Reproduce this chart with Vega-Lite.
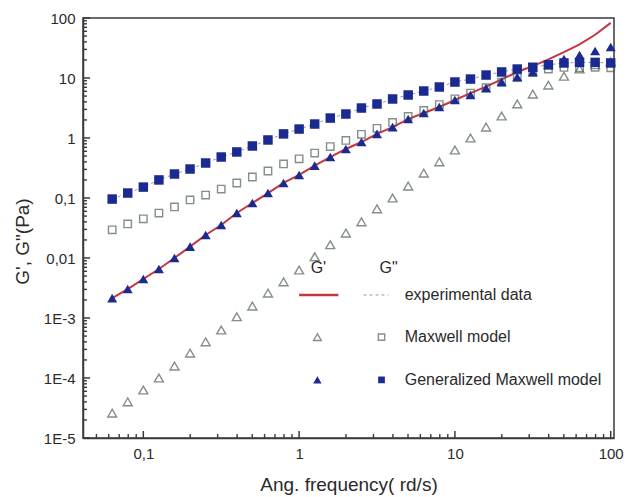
{
  "$schema": "https://vega.github.io/schema/vega-lite/v6.json",
  "width": 531,
  "height": 420,
  "autosize": {"type": "none"},
  "padding": {"left": 83, "top": 18, "right": 14, "bottom": 59},
  "background": "white",
  "config": {
    "view": {"stroke": "#3a3a3a", "strokeWidth": 1.5},
    "font": "Liberation Sans",
    "axis": {
      "domainColor": "#3a3a3a",
      "domainWidth": 1.5,
      "ticks": false,
      "labelFont": "Liberation Sans",
      "labelFontSize": 15,
      "labelColor": "#2a2a2a",
      "titleFont": "Liberation Sans",
      "titleFontSize": 19,
      "titleFontWeight": "normal",
      "titleColor": "#2a2a2a",
      "grid": false,
      "labelOverlap": false
    }
  },
  "datasets": {
    "curves": [
      {"w": 0.0631, "mg1": 2.6e-5, "mg2": 0.0295, "gg1": 0.00215, "gg2": 0.096, "eg1": 0.00215, "eg2": 0.096},
      {"w": 0.0794, "mg1": 4.0e-5, "mg2": 0.037, "gg1": 0.00304, "gg2": 0.121, "eg1": 0.00304, "eg2": 0.121},
      {"w": 0.1, "mg1": 6.3e-5, "mg2": 0.045, "gg1": 0.00447, "gg2": 0.152, "eg1": 0.00447, "eg2": 0.152},
      {"w": 0.1259, "mg1": 1.0e-4, "mg2": 0.056, "gg1": 0.00656, "gg2": 0.2, "eg1": 0.00656, "eg2": 0.2},
      {"w": 0.1585, "mg1": 1.58e-4, "mg2": 0.071, "gg1": 0.01, "gg2": 0.251, "eg1": 0.01, "eg2": 0.251},
      {"w": 0.1995, "mg1": 2.6e-4, "mg2": 0.093, "gg1": 0.0155, "gg2": 0.304, "eg1": 0.0155, "eg2": 0.304},
      {"w": 0.2512, "mg1": 4.0e-4, "mg2": 0.112, "gg1": 0.0242, "gg2": 0.383, "eg1": 0.0242, "eg2": 0.383},
      {"w": 0.3162, "mg1": 6.3e-4, "mg2": 0.141, "gg1": 0.0355, "gg2": 0.482, "eg1": 0.0355, "eg2": 0.482},
      {"w": 0.3981, "mg1": 1.05e-3, "mg2": 0.178, "gg1": 0.0562, "gg2": 0.585, "eg1": 0.0562, "eg2": 0.585},
      {"w": 0.5012, "mg1": 1.58e-3, "mg2": 0.224, "gg1": 0.0826, "gg2": 0.736, "eg1": 0.0826, "eg2": 0.736},
      {"w": 0.631, "mg1": 2.6e-3, "mg2": 0.282, "gg1": 0.121, "gg2": 0.927, "eg1": 0.121, "eg2": 0.927},
      {"w": 0.7943, "mg1": 4.0e-3, "mg2": 0.37, "gg1": 0.178, "gg2": 1.17, "eg1": 0.178, "eg2": 1.17},
      {"w": 1, "mg1": 6.3e-3, "mg2": 0.45, "gg1": 0.242, "gg2": 1.41, "eg1": 0.242, "eg2": 1.41},
      {"w": 1.259, "mg1": 0.0105, "mg2": 0.56, "gg1": 0.347, "gg2": 1.71, "eg1": 0.347, "eg2": 1.71},
      {"w": 1.585, "mg1": 0.0166, "mg2": 0.72, "gg1": 0.482, "gg2": 2.15, "eg1": 0.482, "eg2": 2.15},
      {"w": 1.995, "mg1": 0.026, "mg2": 0.91, "gg1": 0.656, "gg2": 2.51, "eg1": 0.656, "eg2": 2.51},
      {"w": 2.512, "mg1": 0.04, "mg2": 1.15, "gg1": 0.857, "gg2": 3.16, "eg1": 0.857, "eg2": 3.16},
      {"w": 3.162, "mg1": 0.066, "mg2": 1.45, "gg1": 1.17, "gg2": 3.69, "eg1": 1.17, "eg2": 3.69},
      {"w": 3.981, "mg1": 0.1, "mg2": 1.82, "gg1": 1.52, "gg2": 4.47, "eg1": 1.52, "eg2": 4.47},
      {"w": 5.012, "mg1": 0.158, "mg2": 2.29, "gg1": 2.07, "gg2": 5.21, "eg1": 2.07, "eg2": 5.21},
      {"w": 6.31, "mg1": 0.26, "mg2": 2.88, "gg1": 2.61, "gg2": 6.07, "eg1": 2.61, "eg2": 6.07},
      {"w": 7.943, "mg1": 0.4, "mg2": 3.6, "gg1": 3.29, "gg2": 7.08, "eg1": 3.29, "eg2": 7.08},
      {"w": 10, "mg1": 0.63, "mg2": 4.5, "gg1": 4.3, "gg2": 8.57, "eg1": 4.3, "eg2": 8.57},
      {"w": 12.59, "mg1": 1.0, "mg2": 5.6, "gg1": 5.2, "gg2": 9.6, "eg1": 5.6, "eg2": 9.6},
      {"w": 15.85, "mg1": 1.52, "mg2": 6.9, "gg1": 6.8, "gg2": 11.2, "eg1": 7.2, "eg2": 11.2},
      {"w": 19.95, "mg1": 2.33, "mg2": 8.5, "gg1": 8.6, "gg2": 12.6, "eg1": 9.5, "eg2": 12.6},
      {"w": 25.12, "mg1": 3.7, "mg2": 10.2, "gg1": 10.4, "gg2": 14.1, "eg1": 12.6, "eg2": 14.1},
      {"w": 31.62, "mg1": 5.4, "mg2": 12.3, "gg1": 12.6, "gg2": 15.1, "eg1": 15.8, "eg2": 15.1},
      {"w": 39.81, "mg1": 7.6, "mg2": 14.1, "gg1": 16.5, "gg2": 16.6, "eg1": 20.4, "eg2": 16.6},
      {"w": 50.12, "mg1": 10.7, "mg2": 15.0, "gg1": 20.7, "gg2": 17.8, "eg1": 26.9, "eg2": 17.8},
      {"w": 63.1, "mg1": 14.1, "mg2": 14.8, "gg1": 24.2, "gg2": 18.2, "eg1": 36.3, "eg2": 18.2},
      {"w": 79.43, "mg1": 16.6, "mg2": 15.1, "gg1": 28.2, "gg2": 18.2, "eg1": 52.5, "eg2": 18.2},
      {"w": 100, "mg1": 18.6, "mg2": 14.8, "gg1": 32.9, "gg2": 17.8, "eg1": 83, "eg2": 17.8}
    ],
    "xTicks": [
      {"v": 0.05}, {"v": 0.06}, {"v": 0.07}, {"v": 0.08}, {"v": 0.09}, {"v": 0.1},
      {"v": 0.2}, {"v": 0.3}, {"v": 0.4}, {"v": 0.5}, {"v": 0.6}, {"v": 0.7}, {"v": 0.8}, {"v": 0.9}, {"v": 1},
      {"v": 2}, {"v": 3}, {"v": 4}, {"v": 5}, {"v": 6}, {"v": 7}, {"v": 8}, {"v": 9}, {"v": 10},
      {"v": 20}, {"v": 30}, {"v": 40}, {"v": 50}, {"v": 60}, {"v": 70}, {"v": 80}, {"v": 90}, {"v": 100}
    ],
    "yTicks": [
      {"v": 0.00001}, {"v": 0.00002}, {"v": 0.00003}, {"v": 0.00004}, {"v": 0.00005}, {"v": 0.00006}, {"v": 0.00007}, {"v": 0.00008}, {"v": 0.00009},
      {"v": 0.0001}, {"v": 0.0002}, {"v": 0.0003}, {"v": 0.0004}, {"v": 0.0005}, {"v": 0.0006}, {"v": 0.0007}, {"v": 0.0008}, {"v": 0.0009},
      {"v": 0.001}, {"v": 0.002}, {"v": 0.003}, {"v": 0.004}, {"v": 0.005}, {"v": 0.006}, {"v": 0.007}, {"v": 0.008}, {"v": 0.009},
      {"v": 0.01}, {"v": 0.02}, {"v": 0.03}, {"v": 0.04}, {"v": 0.05}, {"v": 0.06}, {"v": 0.07}, {"v": 0.08}, {"v": 0.09},
      {"v": 0.1}, {"v": 0.2}, {"v": 0.3}, {"v": 0.4}, {"v": 0.5}, {"v": 0.6}, {"v": 0.7}, {"v": 0.8}, {"v": 0.9},
      {"v": 1}, {"v": 2}, {"v": 3}, {"v": 4}, {"v": 5}, {"v": 6}, {"v": 7}, {"v": 8}, {"v": 9},
      {"v": 10}, {"v": 20}, {"v": 30}, {"v": 40}, {"v": 50}, {"v": 60}, {"v": 70}, {"v": 80}, {"v": 90}, {"v": 100}
    ],
    "legendText": [
      {"lx": 1.33, "ly": 0.0068, "label": "G'", "align": "center"},
      {"lx": 3.75, "ly": 0.0068, "label": "G\"", "align": "center"},
      {"lx": 4.76, "ly": 0.00242, "label": "experimental data", "align": "left"},
      {"lx": 4.76, "ly": 0.00048, "label": "Maxwell model", "align": "left"},
      {"lx": 4.76, "ly": 0.000093, "label": "Generalized Maxwell model", "align": "left"}
    ],
    "legendLines": [
      {"lx": 1.0, "ly": 0.00242, "item": "red"},
      {"lx": 1.786, "ly": 0.00242, "item": "red"},
      {"lx": 2.59, "ly": 0.00242, "item": "dash"},
      {"lx": 3.75, "ly": 0.00242, "item": "dash"}
    ],
    "legendSymbols": [
      {"lx": 1.31, "ly": 0.00048, "item": "mg1"},
      {"lx": 3.38, "ly": 0.00048, "item": "mg2"},
      {"lx": 1.31, "ly": 0.000093, "item": "gg1"},
      {"lx": 3.38, "ly": 0.000093, "item": "gg2"}
    ]
  },
  "encoding": {
    "x": {
      "type": "quantitative",
      "scale": {"type": "log", "domain": [0.041, 105], "nice": false},
      "axis": {
        "title": "Ang. frequency( rd/s)",
        "values": [0.1, 1, 10, 100],
        "labelExpr": "datum.value == 0.1 ? '0,1' : '' + datum.value",
        "labelPadding": 8,
        "titleY": 52,
        "titleBaseline": "alphabetic"
      }
    },
    "y": {
      "type": "quantitative",
      "scale": {"type": "log", "domain": [0.00001, 100], "nice": false},
      "axis": {
        "title": "G', G\"(Pa)",
        "values": [0.00001, 0.0001, 0.001, 0.01, 0.1, 1, 10, 100],
        "labelExpr": "datum.value == 100 ? '100' : datum.value == 10 ? '10' : datum.value == 1 ? '1' : datum.value == 0.1 ? '0,1' : datum.value == 0.01 ? '0,01' : datum.value == 0.001 ? '1E-3' : datum.value == 0.0001 ? '1E-4' : '1E-5'",
        "labelPadding": 8,
        "titleX": -61,
        "titleY": 223,
        "titleAlign": "center",
        "titleBaseline": "middle"
      }
    }
  },
  "layer": [
    {
      "data": {"name": "xTicks"},
      "transform": [{"filter": "abs(log(datum.v) / LN10 - round(log(datum.v) / LN10)) < 0.000001"}],
      "mark": {"type": "tick", "orient": "vertical", "size": 7, "thickness": 1.5, "color": "#3a3a3a", "opacity": 1, "yOffset": -3.5},
      "encoding": {"x": {"field": "v"}, "y": {"datum": 0.00001}}
    },
    {
      "data": {"name": "xTicks"},
      "transform": [{"filter": "abs(log(datum.v) / LN10 - round(log(datum.v) / LN10)) >= 0.000001"}],
      "mark": {"type": "tick", "orient": "vertical", "size": 4, "thickness": 1.4, "color": "#3a3a3a", "opacity": 1, "yOffset": -2},
      "encoding": {"x": {"field": "v"}, "y": {"datum": 0.00001}}
    },
    {
      "data": {"name": "yTicks"},
      "transform": [{"filter": "abs(log(datum.v) / LN10 - round(log(datum.v) / LN10)) < 0.000001"}],
      "mark": {"type": "tick", "orient": "horizontal", "size": 7, "thickness": 1.5, "color": "#3a3a3a", "opacity": 1, "xOffset": 3.5},
      "encoding": {"y": {"field": "v"}, "x": {"datum": 0.041}}
    },
    {
      "data": {"name": "yTicks"},
      "transform": [{"filter": "abs(log(datum.v) / LN10 - round(log(datum.v) / LN10)) >= 0.000001"}],
      "mark": {"type": "tick", "orient": "horizontal", "size": 4, "thickness": 1.4, "color": "#3a3a3a", "opacity": 1, "xOffset": 2},
      "encoding": {"y": {"field": "v"}, "x": {"datum": 0.041}}
    },
    {
      "data": {"name": "curves"},
      "mark": {"type": "line", "color": "#9a9a9a", "strokeWidth": 1, "strokeDash": [3, 3]},
      "encoding": {"x": {"field": "w"}, "y": {"field": "eg2"}}
    },
    {
      "data": {"name": "curves"},
      "mark": {"type": "line", "color": "#c8343f", "strokeWidth": 2},
      "encoding": {"x": {"field": "w"}, "y": {"field": "eg1"}}
    },
    {
      "data": {"name": "curves"},
      "mark": {"type": "point", "shape": "square", "filled": false, "stroke": "#4f6158", "strokeWidth": 1.4, "size": 55},
      "encoding": {"x": {"field": "w"}, "y": {"field": "mg2"}}
    },
    {
      "data": {"name": "curves"},
      "mark": {"type": "point", "shape": "triangle-up", "filled": false, "stroke": "#4f6158", "strokeWidth": 1.4, "size": 80},
      "encoding": {"x": {"field": "w"}, "y": {"field": "mg1"}}
    },
    {
      "data": {"name": "curves"},
      "mark": {"type": "point", "shape": "square", "filled": true, "fill": "#1b2a90", "opacity": 1, "size": 90},
      "encoding": {"x": {"field": "w"}, "y": {"field": "gg2"}}
    },
    {
      "data": {"name": "curves"},
      "mark": {"type": "point", "shape": "triangle-up", "filled": true, "fill": "#1b2a90", "opacity": 1, "size": 100},
      "encoding": {"x": {"field": "w"}, "y": {"field": "gg1"}}
    },
    {
      "data": {"name": "legendLines"},
      "transform": [{"filter": "datum.item == 'red'"}],
      "mark": {"type": "line", "color": "#c8343f", "strokeWidth": 2.5},
      "encoding": {"x": {"field": "lx"}, "y": {"field": "ly"}}
    },
    {
      "data": {"name": "legendLines"},
      "transform": [{"filter": "datum.item == 'dash'"}],
      "mark": {"type": "line", "color": "#9a9a9a", "strokeWidth": 1, "strokeDash": [3, 3]},
      "encoding": {"x": {"field": "lx"}, "y": {"field": "ly"}}
    },
    {
      "data": {"name": "legendSymbols"},
      "transform": [{"filter": "datum.item == 'mg1'"}],
      "mark": {"type": "point", "shape": "triangle-up", "filled": false, "stroke": "#4f6158", "strokeWidth": 1.4, "size": 60},
      "encoding": {"x": {"field": "lx"}, "y": {"field": "ly"}}
    },
    {
      "data": {"name": "legendSymbols"},
      "transform": [{"filter": "datum.item == 'mg2'"}],
      "mark": {"type": "point", "shape": "square", "filled": false, "stroke": "#4f6158", "strokeWidth": 1.4, "size": 40},
      "encoding": {"x": {"field": "lx"}, "y": {"field": "ly"}}
    },
    {
      "data": {"name": "legendSymbols"},
      "transform": [{"filter": "datum.item == 'gg1'"}],
      "mark": {"type": "point", "shape": "triangle-up", "filled": true, "fill": "#1b2a90", "opacity": 1, "size": 70},
      "encoding": {"x": {"field": "lx"}, "y": {"field": "ly"}}
    },
    {
      "data": {"name": "legendSymbols"},
      "transform": [{"filter": "datum.item == 'gg2'"}],
      "mark": {"type": "point", "shape": "square", "filled": true, "fill": "#1b2a90", "opacity": 1, "size": 45},
      "encoding": {"x": {"field": "lx"}, "y": {"field": "ly"}}
    },
    {
      "data": {"name": "legendText"},
      "transform": [{"filter": "datum.align == 'left'"}],
      "mark": {"type": "text", "align": "left", "baseline": "middle", "fontSize": 16, "color": "#2a2a2a", "font": "Liberation Sans"},
      "encoding": {"x": {"field": "lx"}, "y": {"field": "ly"}, "text": {"field": "label"}}
    },
    {
      "data": {"name": "legendText"},
      "transform": [{"filter": "datum.align == 'center'"}],
      "mark": {"type": "text", "align": "center", "baseline": "middle", "fontSize": 16, "color": "#2a2a2a", "font": "Liberation Sans"},
      "encoding": {"x": {"field": "lx"}, "y": {"field": "ly"}, "text": {"field": "label"}}
    }
  ]
}
